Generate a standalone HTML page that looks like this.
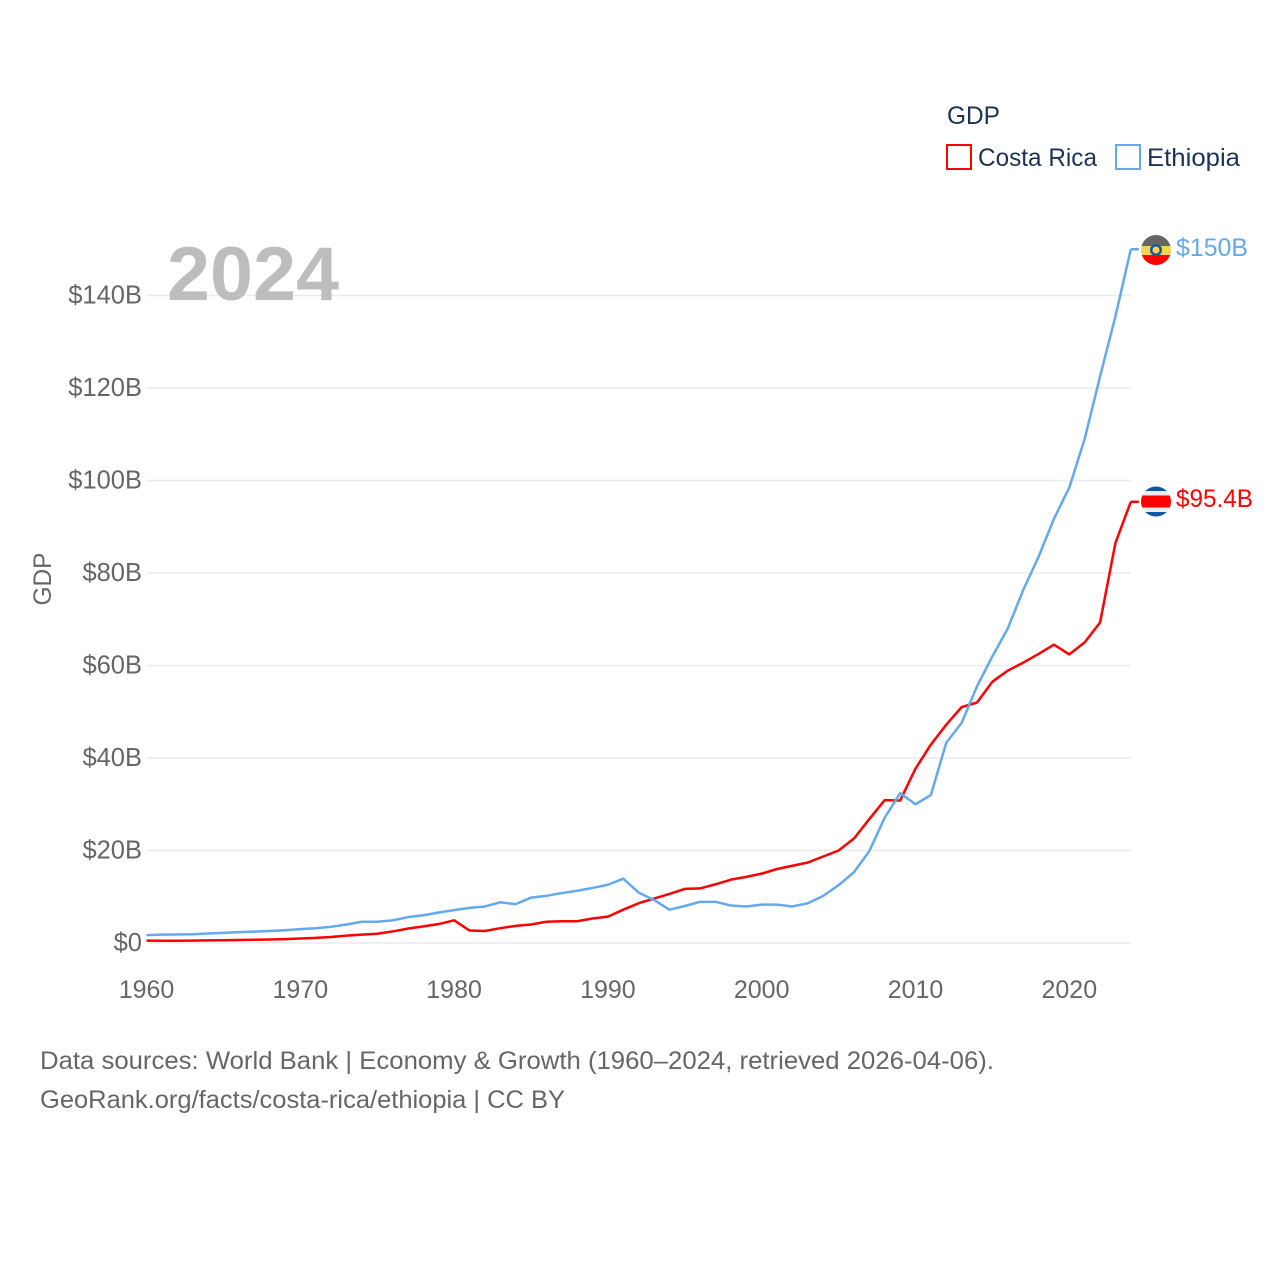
<!DOCTYPE html>
<html lang="en">
<head>
<meta charset="utf-8">
<title>GDP: Costa Rica and Ethiopia</title>
<style>
html,body{margin:0;padding:0;background:#fff;width:1280px;height:1280px;overflow:hidden}
svg{display:block}
text{font-family:"Liberation Sans",sans-serif}
</style>
</head>
<body>
<svg id="chart" width="1280" height="1280" viewBox="0 0 1280 1280" xmlns="http://www.w3.org/2000/svg">
  <defs>
    <clipPath id="clip-et"><circle cx="1156" cy="250" r="15"/></clipPath>
    <clipPath id="clip-cr"><circle cx="1156" cy="501.5" r="15"/></clipPath>
  </defs>
  <rect x="0" y="0" width="1280" height="1280" fill="#fff"/>
  <g id="grid"></g>
  <g id="yticks"></g>
  <g id="xticks"></g>
  <text x="167" y="300" font-size="76" font-weight="700" fill="#bdbdbd" textLength="172" lengthAdjust="spacingAndGlyphs">2024</text>
  <text transform="translate(51,579) rotate(-90)" text-anchor="middle" font-size="25" fill="#666" textLength="53" lengthAdjust="spacingAndGlyphs">GDP</text>
  <g id="lines"></g>

  <g clip-path="url(#clip-et)">
    <rect x="1141" y="235" width="30" height="11" fill="#666"/>
    <rect x="1141" y="246" width="30" height="9" fill="#f6d44c"/>
    <rect x="1141" y="255" width="30" height="10" fill="#fe0000"/>
    <circle cx="1156" cy="250" r="6" fill="#1657a8"/>
    <circle cx="1156" cy="250" r="3.500" fill="#f6d44c"/>
  </g>
  <g clip-path="url(#clip-cr)">
    <rect x="1141" y="486" width="30" height="5" fill="#0f57a8"/>
    <rect x="1141" y="491" width="30" height="5" fill="#ececec"/>
    <rect x="1141" y="495.500" width="30" height="12" fill="#fe0000"/>
    <rect x="1141" y="507.500" width="30" height="4.500" fill="#ececec"/>
    <rect x="1141" y="512" width="30" height="5" fill="#0f57a8"/>
  </g>
  <text x="1176" y="256" font-size="25" fill="#64a9ee" textLength="72" lengthAdjust="spacingAndGlyphs">$150B</text>
  <text x="1176" y="507" font-size="25" fill="#fe0000" textLength="77" lengthAdjust="spacingAndGlyphs">$95.4B</text>

  <g>
    <text x="947" y="124" font-size="25" fill="#1b3355" textLength="53" lengthAdjust="spacingAndGlyphs">GDP</text>
    <rect x="947" y="145" width="24" height="24" fill="none" stroke="#fe0000" stroke-width="2"/>
    <text x="978" y="166" font-size="25" fill="#1b3355" textLength="119" lengthAdjust="spacingAndGlyphs">Costa Rica</text>
    <rect x="1116" y="145" width="24" height="24" fill="none" stroke="#64a9ee" stroke-width="2"/>
    <text x="1147" y="166" font-size="25" fill="#1b3355" textLength="93" lengthAdjust="spacingAndGlyphs">Ethiopia</text>
  </g>

  <text x="40" y="1069" font-size="25" fill="#666" textLength="954" lengthAdjust="spacingAndGlyphs">Data sources: World Bank | Economy &amp; Growth (1960–2024, retrieved 2026-04-06).</text>
  <text x="40" y="1108" font-size="25" fill="#666" textLength="525" lengthAdjust="spacingAndGlyphs">GeoRank.org/facts/costa-rica/ethiopia | CC BY</text>
</svg>
<script>
const startYear = 1960;
const costaRica = [0.51,0.49,0.5,0.52,0.56,0.59,0.65,0.7,0.75,0.85,0.98,1.1,1.3,1.6,1.8,2.0,2.5,3.1,3.6,4.1,4.9,2.7,2.6,3.2,3.7,4.0,4.6,4.7,4.7,5.3,5.7,7.2,8.6,9.6,10.6,11.7,11.8,12.7,13.7,14.3,15.0,16.0,16.7,17.4,18.7,20.0,22.6,26.8,30.9,30.8,37.7,42.9,47.2,51.0,52.0,56.5,58.9,60.6,62.5,64.5,62.4,65.0,69.3,86.5,95.4];
const ethiopia = [1.7,1.8,1.85,1.9,2.05,2.2,2.35,2.45,2.6,2.75,3.0,3.2,3.5,4.0,4.6,4.6,4.9,5.6,6.0,6.6,7.1,7.6,7.9,8.8,8.4,9.8,10.2,10.8,11.3,11.9,12.6,13.9,10.9,9.3,7.2,8.0,8.9,8.9,8.1,7.9,8.3,8.3,7.9,8.6,10.2,12.5,15.3,19.9,27.1,32.4,30.0,32.0,43.3,47.6,55.5,62.0,68.0,76.3,83.5,91.7,98.5,109.0,122.5,135.5,150.0];
const yTickValues = [0,20,40,60,80,100,120,140];
const yTickLabels = ["$0","$20B","$40B","$60B","$80B","$100B","$120B","$140B"];
const xTickYears = [1960,1970,1980,1990,2000,2010,2020];

const NS = 'http://www.w3.org/2000/svg';
const xScale = function (year) { return 146.5 + (year - 1960) * 15.38; };
const yScale = function (v) { return 943 - v * 4.625; };

const grid = document.getElementById('grid');
const yticks = document.getElementById('yticks');
const xticks = document.getElementById('xticks');
const lines = document.getElementById('lines');

yTickValues.forEach(function (v, i) {
  const line = document.createElementNS(NS, 'line');
  
  
  line.setAttribute('x1', 147);
  line.setAttribute('x2', 1131);
  line.setAttribute('y1', yScale(v));
  line.setAttribute('y2', yScale(v));
  line.setAttribute('stroke', '#ebebeb');
  line.setAttribute('stroke-width', '1.5');
  grid.appendChild(line);

  const label = document.createElementNS(NS, 'text');
  
  
  label.setAttribute('x', 142);
  label.setAttribute('y', yScale(v) + 8);
  label.setAttribute('text-anchor', 'end');
  label.setAttribute('font-size', '25.500');
  label.setAttribute('fill', '#666');
  label.textContent = yTickLabels[i];
  yticks.appendChild(label);
});

xTickYears.forEach(function (year) {
  const label = document.createElementNS(NS, 'text');
  
  
  label.setAttribute('x', xScale(year));
  label.setAttribute('y', 998);
  label.setAttribute('text-anchor', 'middle');
  label.setAttribute('font-size', '25');
  label.setAttribute('fill', '#666');
  label.textContent = String(year);
  xticks.appendChild(label);
});

function buildPoints(values) {
  return values.map(function (v, i) {
    return xScale(startYear + i).toFixed(2) + ',' + yScale(v).toFixed(2);
  }).join(' ');
}

const ethiopiaLine = document.createElementNS(NS, 'polyline');


ethiopiaLine.setAttribute('points', buildPoints(ethiopia));
ethiopiaLine.setAttribute('fill', 'none');
ethiopiaLine.setAttribute('stroke', '#64a9ee');
ethiopiaLine.setAttribute('stroke-width', '2.5');
ethiopiaLine.setAttribute('stroke-linejoin', 'round');
lines.appendChild(ethiopiaLine);

const costaRicaLine = document.createElementNS(NS, 'polyline');


costaRicaLine.setAttribute('points', buildPoints(costaRica));
costaRicaLine.setAttribute('fill', 'none');
costaRicaLine.setAttribute('stroke', '#fe0000');
costaRicaLine.setAttribute('stroke-width', '2.5');
costaRicaLine.setAttribute('stroke-linejoin', 'round');
lines.insertBefore(costaRicaLine, ethiopiaLine);

const ethiopiaStub = document.createElementNS(NS, 'line');


ethiopiaStub.setAttribute('x1', xScale(2024));
ethiopiaStub.setAttribute('x2', xScale(2024) + 8);
ethiopiaStub.setAttribute('y1', yScale(ethiopia[ethiopia.length - 1]));
ethiopiaStub.setAttribute('y2', yScale(ethiopia[ethiopia.length - 1]));
ethiopiaStub.setAttribute('stroke', '#64a9ee');
ethiopiaStub.setAttribute('stroke-width', '2.5');
lines.appendChild(ethiopiaStub);

const costaRicaStub = document.createElementNS(NS, 'line');


costaRicaStub.setAttribute('x1', xScale(2024));
costaRicaStub.setAttribute('x2', xScale(2024) + 8);
costaRicaStub.setAttribute('y1', yScale(costaRica[costaRica.length - 1]));
costaRicaStub.setAttribute('y2', yScale(costaRica[costaRica.length - 1]));
costaRicaStub.setAttribute('stroke', '#fe0000');
costaRicaStub.setAttribute('stroke-width', '2.5');
lines.appendChild(costaRicaStub);
</script>
</body>
</html>
